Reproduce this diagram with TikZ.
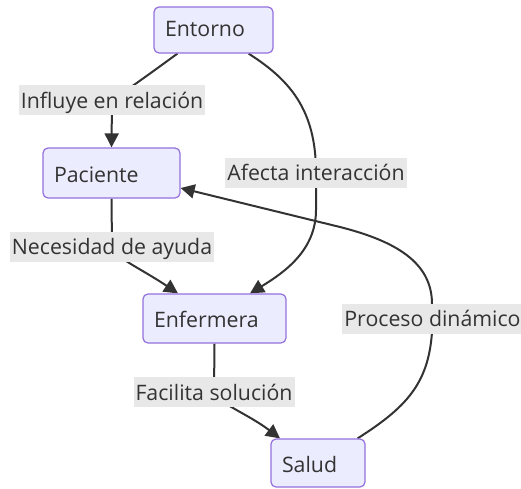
\documentclass[tikz,border=0pt]{standalone}
\usepackage{fontspec}
\setmainfont{Open Sans}
\usetikzlibrary{arrows.meta}
\pgfdeclarelayer{background}
\pgfsetlayers{background,main}
\definecolor{nodefill}{HTML}{ECECFF}
\definecolor{nodeborder}{HTML}{9370DB}
\definecolor{txt}{HTML}{333333}
\definecolor{lblbg}{HTML}{E8E8E8}
\tikzset{
  box/.style={draw=nodeborder, fill=nodefill, line width=1.2pt, rounded corners=5pt,
    inner xsep=11pt, inner ysep=0pt, align=left, text=txt,
    text height=22pt, text depth=4pt, font=\fontsize{21.3}{25}\selectfont},
  lbl/.style={fill=lblbg, inner xsep=2pt, inner ysep=0pt, minimum height=30pt,
    text=txt, text height=20pt, text depth=4pt, font=\fontsize{21.3}{25}\selectfont},
  edge/.style={draw=txt, line width=2pt, -{Triangle[length=14pt,width=14pt]}},
  plain/.style={draw=txt, line width=2pt}
}
\begin{document}
\begin{tikzpicture}[x=1pt,y=-1pt]
\useasboundingbox (0,0) rectangle (521,488);
% nodes
\node[box, minimum width=119pt, minimum height=46pt, text width=97pt, text depth=10pt] (entorno) at (213.5,30) {Entorno};
\node[box, minimum width=137pt, minimum height=50pt, text width=115pt] (paciente) at (111.5,173) {Paciente};
\node[box, minimum width=143pt, minimum height=49pt, text width=121pt] (enfermera) at (214.5,318.5) {Enfermera};
\node[box, minimum width=94pt, minimum height=48pt, text width=72pt] (salud) at (318,463) {Salud};
% edge labels
\node[lbl] (l1) at (112,100) {Influye en relación};
\node[lbl] (l2) at (316,172.5) {Afecta interacción};
\node[lbl] (l3) at (112,246.5) {Necesidad de ayuda};
\node[lbl] (l4) at (432.5,318.5) {Proceso dinámico};
\node[lbl] (l5) at (214,392) {Facilita solución};
% connectors
\begin{pgfonlayer}{background}
\path[edge] ([xshift=24pt]entorno.south west) .. controls (125,92) and (112,100) .. (l1.center) -- (paciente.north);
\path[edge] ([xshift=-25pt]entorno.south east) .. controls (290,80) and (316,110) .. (l2.center) -- (316,210) .. controls (316,250) and (285,272) .. ([xshift=35.5pt]enfermera.north);
\path[edge] (paciente.south) -- (l3.center) .. controls (112,256) and (140,268) .. ([xshift=-36.5pt]enfermera.north);
\path[edge] (enfermera.south) -- (l5.center) .. controls (216,402) and (248,414) .. ([xshift=-38pt]salud.north);
\path[edge] ([xshift=-8pt]salud.north east) .. controls (410,405) and (432,380) .. (l4.center) -- (432,304) .. controls (432,262) and (395,241) .. (340,227) -- ([yshift=-15pt]paciente.east);
\end{pgfonlayer}
\end{tikzpicture}
\end{document}
